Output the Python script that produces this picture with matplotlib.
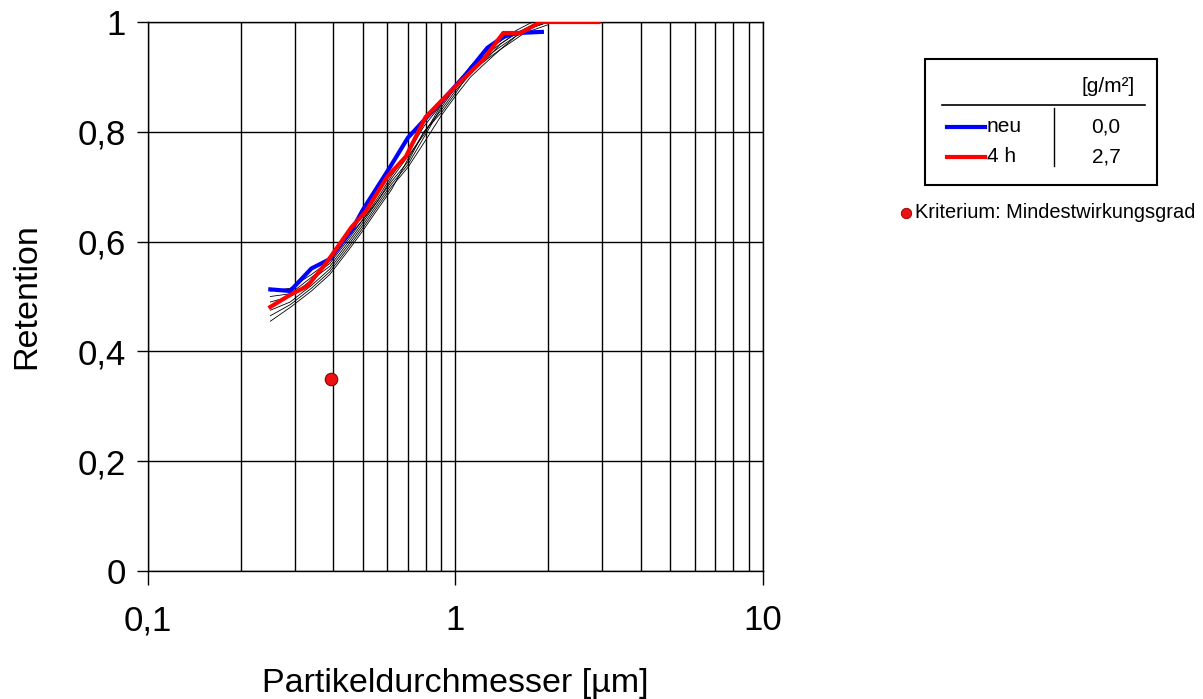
"""
Retention über Partikeldurchmesser (Nachbau)
"""
import matplotlib
matplotlib.use("Agg")
import matplotlib.pyplot as plt
from matplotlib.patches import Rectangle
from matplotlib.lines import Line2D
from matplotlib.ticker import FixedLocator, NullFormatter, FuncFormatter

plt.rcParams['font.family'] = ['Liberation Sans', 'DejaVu Sans']

# Messkurven neu / 4 h
neu_x = [0.25, 0.29, 0.34, 0.39, 0.46, 0.50, 0.61, 0.70, 0.79, 0.91, 1.09, 1.27, 1.43, 1.59, 1.91]
neu_y = [0.513, 0.510, 0.551, 0.568, 0.621, 0.658, 0.734, 0.789, 0.821, 0.858, 0.907, 0.953, 0.973, 0.980, 0.982]

h4_x = [0.25, 0.29, 0.33, 0.38, 0.46, 0.51, 0.60, 0.69, 0.80, 1.01, 1.23, 1.43, 1.63, 1.89, 2.92]
h4_y = [0.481, 0.503, 0.519, 0.561, 0.627, 0.654, 0.718, 0.755, 0.827, 0.885, 0.931, 0.980, 0.980, 1.0, 1.0]

# dünne Einzelmessungen
thin_x = [0.25, 0.29, 0.34, 0.39, 0.45, 0.50, 0.56, 0.62, 0.70, 0.79, 0.90, 1.00, 1.12, 1.25, 1.40, 1.58, 1.78, 2.0]
thin_a = [0.51, 0.515, 0.54, 0.565, 0.61, 0.64, 0.68, 0.72, 0.76, 0.81, 0.85, 0.88, 0.91, 0.93, 0.96, 0.98, 0.99, 1.0]
thin_b = [0.49, 0.50, 0.53, 0.555, 0.60, 0.635, 0.675, 0.71, 0.745, 0.80, 0.84, 0.875, 0.905, 0.935, 0.955, 0.975, 0.99, 1.0]
thin_c = [0.475, 0.49, 0.52, 0.55, 0.595, 0.63, 0.67, 0.705, 0.74, 0.79, 0.845, 0.88, 0.915, 0.94, 0.96, 0.98, 0.995, 1.0]
thin_d = [0.465, 0.485, 0.515, 0.545, 0.59, 0.625, 0.665, 0.70, 0.735, 0.78, 0.83, 0.865, 0.90, 0.925, 0.95, 0.97, 0.99, 1.0]
thin_e = [0.455, 0.48, 0.51, 0.54, 0.585, 0.62, 0.66, 0.695, 0.75, 0.80, 0.835, 0.87, 0.91, 0.93, 0.95, 0.975, 0.985, 0.995]
thin_f = [0.50, 0.505, 0.535, 0.56, 0.605, 0.64, 0.675, 0.715, 0.755, 0.795, 0.85, 0.885, 0.92, 0.945, 0.965, 0.985, 1.0, 1.0]

krit_x = [0.395]
krit_y = [0.35]

legend_names = ["neu", "4 h"]
legend_vals = ["0,0", "2,7"]
legend_colors = ["#0000ff", "#ff0000"]


def comma(v, pos):
    s = f"{v:g}"
    return s.replace(".", ",")


fig = plt.figure(figsize=(12.03, 6.99), dpi=100)
ax = fig.add_axes([0.1230, 0.1831, 0.5112, 0.7854])

for ty in [thin_a, thin_b, thin_c, thin_d, thin_e, thin_f]:
    ax.plot(thin_x, ty, color='black', lw=0.6, zorder=3)

ax.plot(neu_x, neu_y, color=legend_colors[0], lw=3, zorder=4)
ax.plot(h4_x, h4_y, color=legend_colors[1], lw=3, zorder=5)
ax.plot(krit_x, krit_y, 'o', color='#ee1111', mec='#880000', mew=0.8, ms=9, zorder=6)

ax.set_xscale('log')
ax.set_xlim(0.1, 10)
ax.set_ylim(0, 1)
ax.xaxis.set_major_locator(FixedLocator([0.1, 1, 10]))
ax.xaxis.set_minor_locator(FixedLocator([0.2, 0.3, 0.4, 0.5, 0.6, 0.7, 0.8, 0.9,
                                         2, 3, 4, 5, 6, 7, 8, 9]))
ax.xaxis.set_major_formatter(FuncFormatter(comma))
ax.xaxis.set_minor_formatter(NullFormatter())
ax.set_yticks([0, 0.2, 0.4, 0.6, 0.8, 1.0])
ax.yaxis.set_major_formatter(FuncFormatter(comma))

ax.grid(True, which='both', color='black', lw=1.0)
ax.set_axisbelow(True)
ax.tick_params(axis='x', which='major', direction='out', length=10, width=1,
               labelsize=25, pad=14)
ax.tick_params(axis='x', which='minor', length=0)
ax.tick_params(axis='y', direction='out', length=8, width=1, labelsize=25, pad=8)
for s in ax.spines.values():
    s.set_linewidth(1.0)

ax.set_xlabel("Partikeldurchmesser [µm]", fontsize=24.5, labelpad=22)
ax.set_ylabel("Retention", fontsize=24.5, labelpad=25)


# Legende als Tabelle rechts
def fx(px):
    return px / 1203


def fy(py):
    return 1 - py / 699


fig.add_artist(Rectangle((fx(925), fy(185)), fx(1157) - fx(925), fy(59) - fy(185),
                         transform=fig.transFigure, fill=False, ec='black', lw=1.5))
fig.add_artist(Line2D([fx(942), fx(1145)], [fy(105), fy(105)], color='black', lw=1.2))
fig.add_artist(Line2D([fx(1054), fx(1054)], [fy(108), fy(166)], color='black', lw=1.0))
fig.text(fx(1108), fy(87), "[g/m²]", fontsize=15, ha='center', va='center')
for i, (name, val, col) in enumerate(zip(legend_names, legend_vals, legend_colors)):
    yy = fy(127 + i * 30)
    fig.add_artist(Line2D([fx(947), fx(985)], [yy, yy], color=col, lw=3))
    fig.text(fx(987), yy, name, fontsize=15, ha='left', va='center')
    fig.text(fx(1106), yy, val, fontsize=15, ha='center', va='center')

fig.add_artist(Line2D([fx(906)], [fy(213)], marker='o', color='#ee1111', mec='#880000',
                      mew=0.6, ms=7.5))
fig.text(fx(915), fy(213), "Kriterium: Mindestwirkungsgrad", fontsize=14.4,
         ha='left', va='center')

fig.savefig("out.png", dpi=100)
